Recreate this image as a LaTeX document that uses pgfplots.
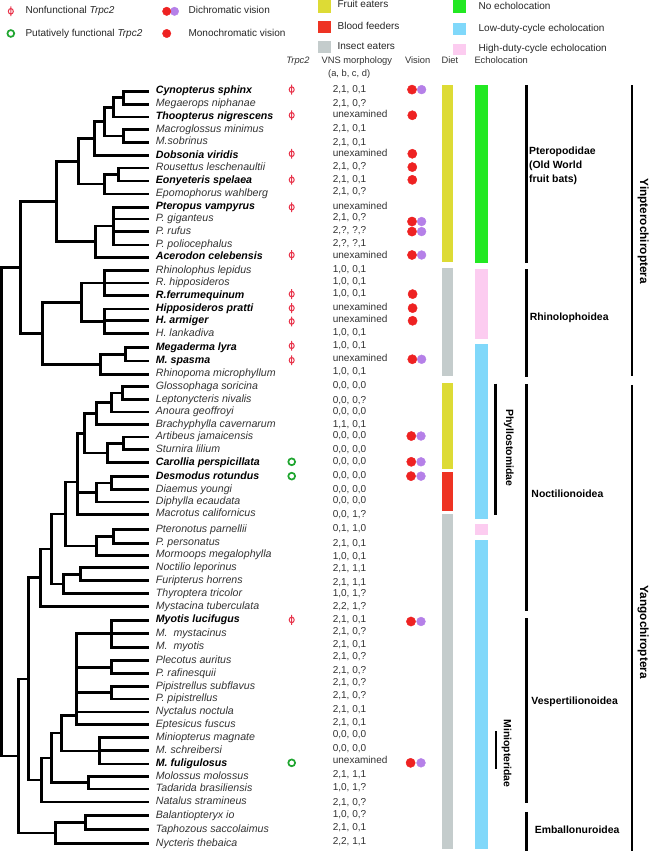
\documentclass[border=0pt]{standalone}
\usepackage{fontspec}
\setmainfont{Liberation Sans}
\usepackage{pgfplots}
\pgfplotsset{compat=1.18}
\definecolor{fruit}{RGB}{221,219,53}
\definecolor{blood}{RGB}{238,51,35}
\definecolor{insect}{RGB}{196,204,204}
\definecolor{noecho}{RGB}{34,232,34}
\definecolor{lowdc}{RGB}{128,216,250}
\definecolor{highdc}{RGB}{252,204,240}
\definecolor{phired}{RGB}{232,51,74}
\definecolor{fgreen}{RGB}{31,165,47}
\definecolor{vred}{RGB}{238,34,34}
\definecolor{vpurple}{RGB}{181,128,232}
\definecolor{txt}{RGB}{50,50,50}
\pgfdeclareplotmark{phi}{%
  \pgfpathellipse{\pgfpointorigin}{\pgfpoint{2.5pt}{0pt}}{\pgfpoint{0pt}{2.8pt}}%
  \pgfpathmoveto{\pgfpoint{0pt}{-4.9pt}}\pgfpathlineto{\pgfpoint{0pt}{4.9pt}}%
  \pgfusepathqstroke}
\tikzset{
  tree/.style={black, line width=2.6pt, mark=none, line join=miter, line cap=butt},
  spn/.style={anchor=mid west, inner sep=0pt, text=txt, font=\fontsize{10.6}{12}\selectfont\itshape},
  spb/.style={anchor=mid west, inner sep=0pt, text=black, font=\fontsize{10.6}{12}\selectfont\bfseries\itshape},
  vns/.style={anchor=mid west, inner sep=0pt, text=txt, font=\fontsize{10}{12}\selectfont},
  hdr/.style={anchor=mid, inner sep=0pt, text=txt, font=\fontsize{9.3}{11}\selectfont},
  leg/.style={anchor=mid west, inner sep=0pt, text=black!85, font=\fontsize{10}{12}\selectfont},
  clade/.style={anchor=mid west, inner sep=0pt, text=black, font=\fontsize{10.4}{12}\selectfont\bfseries},
  rclade/.style={rotate=-90, anchor=mid, inner sep=0pt, text=black, font=\fontsize{10.4}{12}\selectfont\bfseries},
  sub/.style={rotate=-90, anchor=mid, inner sep=0pt, text=black, font=\fontsize{11.8}{13}\selectfont\bfseries},
}
\newcommand\br[1]{\addplot[tree] coordinates {#1};}
\newcommand\rect[5]{\addplot[fill=#1, draw=none] coordinates {(#2,#4)(#3,#4)(#3,#5)(#2,#5)} --cycle;}
\newcommand\spn[2]{\node[spn] at (axis cs:157,#1) {#2};}
\newcommand\spb[2]{\node[spb] at (axis cs:157,#1) {#2};}
\newcommand\vns[2]{\node[vns] at (axis cs:333.5,#1) {#2};}
\begin{document}
\begin{tikzpicture}
\begin{axis}[scale only axis, width=650pt, height=852pt,
  xmin=0, xmax=650, ymin=0, ymax=852, y dir=reverse, hide axis, clip=false]
% ---------------- legend ----------------
\addplot[only marks, mark=phi, phired, line width=1pt] coordinates {(12.5,14.6)};
\addplot[only marks, mark=o, mark size=3.4pt, fgreen, line width=1.7pt] coordinates {(12.5,36.7)};
\addplot[only marks, mark=*, mark size=4.2pt, vpurple, draw=none] coordinates {(175.8,14.6)};
\addplot[only marks, mark=*, mark size=4.2pt, vred, draw=none] coordinates {(168,14.6) (168,36.7)};
\rect{fruit}{319}{332}{3.3}{15.8}
\rect{blood}{319}{332}{24.2}{36.7}
\rect{insect}{319}{332}{43.8}{56.3}
\rect{noecho}{454}{466.7}{3.3}{16.7}
\rect{lowdc}{454}{466.7}{25.8}{38.3}
\rect{highdc}{454}{466.7}{46.7}{58.3}
\node[leg] at (axis cs:27,14.6) {Nonfunctional \textit{Trpc2}};
\node[leg] at (axis cs:27,36.7) {Putatively functional \textit{Trpc2}};
\node[leg] at (axis cs:189.6,14.6) {Dichromatic vision};
\node[leg] at (axis cs:189.6,36.7) {Monochromatic vision};
\node[leg] at (axis cs:338.3,8.3) {Fruit eaters};
\node[leg] at (axis cs:338.3,30) {Blood feeders};
\node[leg] at (axis cs:338.3,50) {Insect eaters};
\node[leg] at (axis cs:479,10.4) {No echolocation};
\node[leg] at (axis cs:479,32) {Low-duty-cycle echolocation};
\node[leg] at (axis cs:479,52) {High-duty-cycle echolocation};
% ---------------- headers ----------------
\node[hdr] at (axis cs:299,64) {\textit{Trpc2}};
\node[hdr] at (axis cs:357.7,64) {VNS morphology};
\node[hdr] at (axis cs:350,76.5) {(a, b, c, d)};
\node[hdr] at (axis cs:418.3,64) {Vision};
\node[hdr] at (axis cs:450.5,64) {Diet};
\node[hdr] at (axis cs:501.7,64) {Echolocation};
% ---------------- tree ----------------
\br{(150,94.3)(125,94.3)(125,107.3)(150,107.3)}
\br{(125,100.8)(115,100.8)(115,120)(150,120)}
\br{(150,132.7)(125,132.7)(125,145.3)(150,145.3)}
\br{(115,110.4)(106,110.4)(106,139)(125,139)}
\br{(106,124.7)(96,124.7)(96,158.3)(150,158.3)}
\br{(150,171)(120,171)(120,183.7)(150,183.7)}
\br{(120,177.3)(106,177.3)(106,196.7)(150,196.7)}
\br{(96,141.5)(80,141.5)(80,187)(106,187)}
\br{(150,210)(115,210)(115,247.7)(150,247.7)}
\br{(115,221.7)(150,221.7)}
\br{(115,234.3)(150,234.3)}
\br{(115,228.8)(97,228.8)(97,260)(150,260)}
\br{(80,164.3)(58,164.3)(58,244.4)(97,244.4)}
\br{(150,273.3)(106,273.3)(106,298.3)(150,298.3)}
\br{(106,285.7)(150,285.7)}
\br{(150,311.7)(106,311.7)(106,336)(150,336)}
\br{(106,323.3)(150,323.3)}
\br{(106,285.8)(83,285.8)(83,323.8)(106,323.8)}
\br{(150,350)(127,350)(127,363.3)(150,363.3)}
\br{(127,356.7)(102,356.7)(102,376.7)(150,376.7)}
\br{(83,304.8)(44,304.8)(44,366.7)(102,366.7)}
\br{(58,204.4)(22,204.4)(22,335.7)(44,335.7)}
\br{(150,389)(124,389)(124,402)(150,402)}
\br{(124,395.5)(113,395.5)(113,414.3)(150,414.3)}
\br{(113,405)(98,405)(98,426.7)(150,426.7)}
\br{(150,439.3)(125,439.3)(125,452)(150,452)}
\br{(125,445.7)(109,445.7)(109,464.7)(150,464.7)}
\br{(98,415.8)(86,415.8)(86,455.2)(109,455.2)}
\br{(150,478.7)(113,478.7)(113,491.7)(150,491.7)}
\br{(113,485.2)(98,485.2)(98,504)(150,504)}
\br{(86,435.5)(79,435.5)(79,516.3)(150,516.3)}
\br{(79,494.6)(98,494.6)}
\br{(150,531.7)(115,531.7)(115,545.3)(150,545.3)}
\br{(115,538.5)(98,538.5)(98,557.3)(150,557.3)}
\br{(79,484)(67,484)(67,547.9)(98,547.9)}
\br{(150,569.7)(82,569.7)(82,582.7)(150,582.7)}
\br{(82,576.2)(65,576.2)(65,595.3)(150,595.3)}
\br{(67,516)(53,516)(53,585.8)(65,585.8)}
\br{(53,551)(42,551)(42,608.3)(150,608.3)}
\br{(150,622)(113,622)(113,649)(150,649)}
\br{(113,635.5)(150,635.5)}
\br{(150,662.5)(113,662.5)(113,675.3)(150,675.3)}
\br{(150,688)(113,688)(113,700.7)(150,700.7)}
\br{(113,635.5)(78,635.5)(78,726.3)(150,726.3)}
\br{(78,668.9)(113,668.9)}
\br{(78,694.4)(113,694.4)}
\br{(78,713.7)(150,713.7)}
\br{(150,739.3)(101,739.3)(101,765.3)(150,765.3)}
\br{(101,752)(150,752)}
\br{(78,717)(63,717)(63,752.3)(101,752.3)}
\br{(150,778)(90,778)(90,790.3)(150,790.3)}
\br{(63,734.7)(53,734.7)(53,784.2)(90,784.2)}
\br{(53,759.5)(43,759.5)(43,803.3)(150,803.3)}
\br{(42,579.7)(30,579.7)(30,781.4)(43,781.4)}
\br{(150,816.7)(87,816.7)(87,830.7)(150,830.7)}
\br{(87,823.7)(57,823.7)(57,844.7)(150,844.7)}
\br{(30,680.5)(20,680.5)(20,834.2)(57,834.2)}
\br{(22,270)(3,270)(3,757.4)(20,757.4)}
% ---------------- species ----------------
\spb{94.3}{Cynopterus sphinx}
\spn{107.3}{Megaerops niphanae}
\spb{120}{Thoopterus nigrescens}
\spn{132.7}{Macroglossus minimus}
\spn{145.3}{M.sobrinus}
\spb{158.3}{Dobsonia viridis}
\spn{171}{Rousettus leschenaultii}
\spb{183.7}{Eonyeteris spelaea}
\spn{196.7}{Epomophorus wahlberg}
\spb{210}{Pteropus vampyrus}
\spn{221.7}{P. giganteus}
\spn{234.3}{P. rufus}
\spn{247.7}{P. poliocephalus}
\spb{260}{Acerodon celebensis}
\spn{273.3}{Rhinolophus lepidus}
\spn{285.7}{R. hipposideros}
\spb{298.3}{R.ferrumequinum}
\spb{311.7}{Hipposideros pratti}
\spb{323.3}{H. armiger}
\spn{336}{H. lankadiva}
\spb{350}{Megaderma lyra}
\spb{363.3}{M. spasma}
\spn{376.7}{Rhinopoma microphyllum}
\spn{389}{Glossophaga soricina}
\spn{402}{Leptonycteris nivalis}
\spn{414.3}{Anoura geoffroyi}
\spn{426.7}{Brachyphylla cavernarum}
\spn{439.3}{Artibeus jamaicensis}
\spn{452}{Sturnira lilium}
\spb{464.7}{Carollia perspicillata}
\spb{478.7}{Desmodus rotundus}
\spn{491.7}{Diaemus youngi}
\spn{504}{Diphylla ecaudata}
\spn{516.3}{Macrotus californicus}
\spn{531.7}{Pteronotus parnellii}
\spn{545.3}{P. personatus}
\spn{557.3}{Mormoops megalophylla}
\spn{569.7}{Noctilio leporinus}
\spn{582.7}{Furipterus horrens}
\spn{595.3}{Thyroptera tricolor}
\spn{608.3}{Mystacina tuberculata}
\spb{622}{Myotis lucifugus}
\spn{635.5}{M.\ \ mystacinus}
\spn{649}{M.\ \ myotis}
\spn{662.5}{Plecotus auritus}
\spn{675.3}{P. rafinesquii}
\spn{688}{Pipistrellus subflavus}
\spn{700.7}{P. pipistrellus}
\spn{713.7}{Nyctalus noctula}
\spn{726.3}{Eptesicus fuscus}
\spn{739.3}{Miniopterus magnate}
\spn{752}{M. schreibersi}
\spb{765.3}{M. fuligulosus}
\spn{778}{Molossus molossus}
\spn{790.3}{Tadarida brasiliensis}
\spn{803.3}{Natalus stramineus}
\spn{816.7}{Balantiopteryx io}
\spn{830.7}{Taphozous saccolaimus}
\spn{844.7}{Nycteris thebaica}
% ---------------- VNS morphology ----------------
\vns{93.3}{2,1, 0,1}
\vns{106.7}{2,1, 0,?}
\vns{118.3}{unexamined}
\vns{132.3}{2,1, 0,1}
\vns{145.7}{2,1, 0,1}
\vns{156.7}{unexamined}
\vns{170}{2,1, 0,?}
\vns{182.7}{2,1, 0,1}
\vns{195}{2,1, 0,?}
\vns{210}{unexamined}
\vns{221}{2,1, 0,?}
\vns{233.3}{2,?, ?,?}
\vns{246.7}{2,?, ?,1}
\vns{258.3}{unexamined}
\vns{272.3}{1,0, 0,1}
\vns{284.3}{1,0, 0,1}
\vns{296.7}{1,0, 0,1}
\vns{310}{unexamined}
\vns{322.7}{unexamined}
\vns{335.3}{1,0, 0,1}
\vns{348.3}{1,0, 0,1}
\vns{361}{unexamined}
\vns{374.3}{1,0, 0,1}
\vns{388.7}{0,0, 0,0}
\vns{402.7}{0,0, 0,?}
\vns{414}{0,0, 0,0}
\vns{426.7}{1,1, 0,1}
\vns{437.7}{0,0, 0,0}
\vns{452.3}{0,0, 0,0}
\vns{464}{0,0, 0,0}
\vns{478.3}{0,0, 0,0}
\vns{492.3}{0,0, 0,0}
\vns{503.3}{0,0, 0,0}
\vns{516.7}{0,0, 1,?}
\vns{531}{0,1, 1,0}
\vns{545.7}{2,1, 0,1}
\vns{559}{1,0, 0,1}
\vns{571}{2,1, 1,1}
\vns{585}{2,1, 1,1}
\vns{596}{1,0, 1,?}
\vns{608.3}{2,2, 1,?}
\vns{621.7}{2,1, 0,1}
\vns{633.3}{2,1, 0,?}
\vns{646.7}{2,1, 0,1}
\vns{659}{2,1, 0,?}
\vns{672.3}{2,1, 0,?}
\vns{685}{2,1, 0,?}
\vns{697.3}{2,1, 0,?}
\vns{711}{2,1, 0,1}
\vns{724}{2,1, 0,1}
\vns{736.7}{0,0, 0,0}
\vns{750}{0,0, 0,0}
\vns{762.7}{unexamined}
\vns{776}{2,1, 1,1}
\vns{789.3}{1,0, 1,?}
\vns{804}{2,1, 0,?}
\vns{816}{1,0, 0,?}
\vns{829.3}{2,1, 0,1}
\vns{842.7}{2,2, 1,1}
% ---------------- Trpc2 ----------------
\addplot[only marks, mark=phi, phired, line width=1pt] coordinates {
(292.7,92.7) (292.7,118.3) (292.7,156.7) (292.7,182.7) (292.7,210) (292.7,257.7)
(292.7,296.7) (292.7,310.7) (292.7,324) (292.7,348.3) (292.7,362.7) (292.7,621.7)};
\addplot[only marks, mark=o, mark size=3.4pt, fgreen, line width=1.7pt] coordinates {
(292.7,464) (292.7,478.3) (292.7,764.3)};
% ---------------- Vision ----------------
\addplot[only marks, mark=*, mark size=4.4pt, vpurple, draw=none] coordinates {
(422.3,92.7) (422.3,224.3) (422.3,234.3) (422.3,257.7) (422.3,361.7)
(421.7,438.3) (421.7,464) (421.7,478.3) (421.7,623.3) (421.7,764.3)};
\addplot[only marks, mark=*, mark size=4.6pt, vred, draw=none] coordinates {
(412.7,92.7) (413,118.3) (413,156.7) (413,170) (413,182.7) (412.7,224.3) (412.7,234.3) (412.7,257.7)
(413.3,296.7) (413.3,310.7) (413.3,323.3) (413,361.7)
(412,438.3) (412,464) (411.7,478.3) (411.7,623.3) (411.3,764.3)};
% ---------------- Diet ----------------
\rect{fruit}{442.7}{453.7}{87.7}{264.3}
\rect{insect}{442.7}{453.7}{271}{378.3}
\rect{fruit}{442.7}{453.7}{385}{471}
\rect{blood}{442.7}{453.7}{474}{513.3}
\rect{insect}{442.7}{453.7}{515.7}{850}
% ---------------- Echolocation ----------------
\rect{noecho}{476}{488.3}{88.3}{265.7}
\rect{highdc}{476}{488.3}{271.7}{341.7}
\rect{lowdc}{476}{488.3}{346}{521}
\rect{highdc}{476}{488.3}{525.7}{537.3}
\rect{lowdc}{476}{488.3}{541.7}{850}
% ---------------- clade bars ----------------
\addplot[black, line width=2.2pt, mark=none] coordinates {(496,386)(496,517.3)};
\addplot[black, line width=2.2pt, mark=none] coordinates {(496.5,732.7)(496.5,770)};
\addplot[black, line width=2.5pt, mark=none] coordinates {(526.7,88.3)(526.7,265.7)};
\addplot[black, line width=2.5pt, mark=none] coordinates {(526.7,271.7)(526.7,379.3)};
\addplot[black, line width=2.5pt, mark=none] coordinates {(526.7,386.7)(526.7,613.3)};
\addplot[black, line width=2.5pt, mark=none] coordinates {(526.7,620)(526.7,804)};
\addplot[black, line width=2.5pt, mark=none] coordinates {(526.7,813.3)(526.7,852)};
\addplot[black, line width=2.5pt, mark=none] coordinates {(632,88.3)(632,378.3)};
\addplot[black, line width=2.5pt, mark=none] coordinates {(632,387.3)(632,852)};
\node[clade] at (axis cs:529.3,155) {Pteropodidae};
\node[clade] at (axis cs:529.3,169) {(Old World};
\node[clade] at (axis cs:529.3,182.7) {fruit bats)};
\node[clade] at (axis cs:530,320.7) {Rhinolophoidea};
\node[clade] at (axis cs:531.7,496.7) {Noctilionoidea};
\node[clade] at (axis cs:531.7,703.3) {Vespertilionoidea};
\node[clade] at (axis cs:535,832.3) {Emballonuroidea};
\node[rclade] at (axis cs:509.3,450) {Phyllostomidae};
\node[rclade] at (axis cs:507,755) {Miniopteridae};
\node[sub] at (axis cs:643,234) {Yinpterochiroptera};
\node[sub] at (axis cs:643,634) {Yangochiroptera};
\end{axis}
\end{tikzpicture}
\end{document}
